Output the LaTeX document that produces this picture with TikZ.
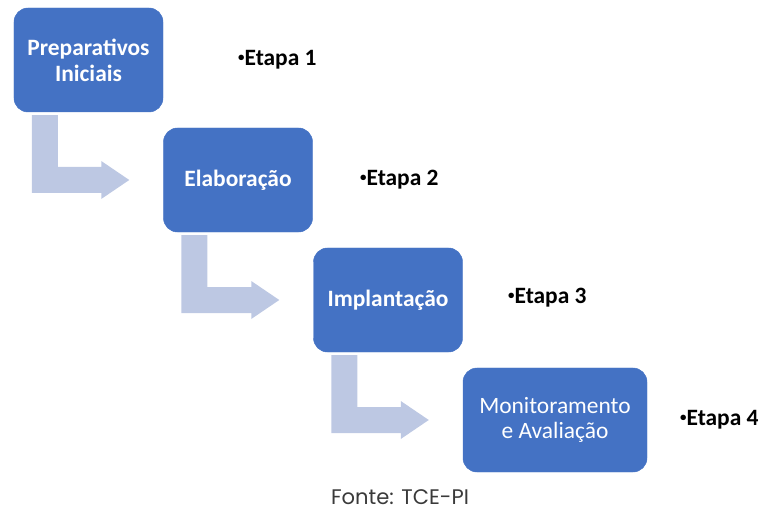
\documentclass[tikz,border=0pt]{standalone}
\usepackage{fontspec}
\setmainfont{Carlito}
\newfontfamily\fontefont{Poppins}
\usetikzlibrary{calc}
\definecolor{boxblue}{HTML}{4472C4}
\definecolor{arrowgray}{HTML}{BDC8E3}
\definecolor{fontegray}{HTML}{3A3A3A}
\newcommand{\dotmark}{\raisebox{0.18em}{\fontsize{11}{11}\selectfont•}}
\begin{document}
\begin{tikzpicture}[x=0.03cm, y=-0.03cm]
        \tikzset{box/.style={fill=boxblue, draw=boxblue, rounded corners=0.42cm, text=white, align=center,
                minimum width=4.47cm, minimum height=3.12cm, inner sep=0pt,
                font=\fontsize{20}{22}\selectfont\bfseries}}
        \tikzset{arr/.style={fill=arrowgray}}
        \tikzset{etapa/.style={anchor=west, inner sep=0pt, font=\fontsize{20}{22}\selectfont\bfseries}}
        \useasboundingbox (0,0) rectangle (764,516);

        \draw node[box] (p) at (88.5,60) {Preparativos\\Iniciais};
        \draw node[box] (e) at (238,180) {Elaboração};
        \draw node[box] (i) at (388,300) {Implantação};
        \draw node[box, minimum width=5.52cm, font=\fontsize{20}{22}\selectfont] (m) at (555,420) {Monitoramento\\e Avaliação};

        \fill[arr] ($(p.south west)+(18,3)$) -- ++(26,0) |- ($(e.west)+(-62,-13)$) -- ++(0,-6)
            -- ($(e.west)+(-34,0)$) -- ($(e.west)+(-62,19)$) -- ++(0,-6) -| ($(p.south west)+(18,3)$) -- cycle;
        \fill[arr] ($(e.south west)+(18,3)$) -- ++(26,0) |- ($(i.west)+(-62,-13)$) -- ++(0,-6)
            -- ($(i.west)+(-34,0)$) -- ($(i.west)+(-62,19)$) -- ++(0,-6) -| ($(e.south west)+(18,3)$) -- cycle;
        \fill[arr] ($(i.south west)+(18,3)$) -- ++(26,0) |- ($(m.west)+(-62,-13)$) -- ++(0,-6)
            -- ($(m.west)+(-34,0)$) -- ($(m.west)+(-62,19)$) -- ++(0,-6) -| ($(i.south west)+(18,3)$) -- cycle;

        \draw node[etapa] (s1) at (238,60) {\dotmark Etapa 1};
        \draw node[etapa] (s2) at (360,180) {\dotmark Etapa 2};
        \draw node[etapa] (s3) at (508,298) {\dotmark Etapa 3};
        \draw node[etapa] (s4) at (680,420) {\dotmark Etapa 4};

        \draw node[text=fontegray, font=\fontefont\fontsize{18}{20}\selectfont] (f) at (400,497) {Fonte: TCE-PI};
\end{tikzpicture}
\end{document}
